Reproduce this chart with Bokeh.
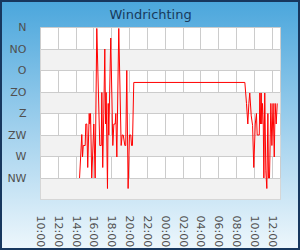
import pandas as pd
from bokeh.plotting import figure
from bokeh.models import (Range1d, FixedTicker, DatetimeTickFormatter,
                          ColumnDataSource)
from bokeh.embed import file_html
from bokeh.resources import INLINE

# ---- data -------------------------------------------------------------
time = [
    "2024-05-01 14:23", "2024-05-01 14:38", "2024-05-01 14:43", "2024-05-01 14:48",
    "2024-05-01 15:01", "2024-05-01 15:05", "2024-05-01 15:12", "2024-05-01 15:18",
    "2024-05-01 15:28", "2024-05-01 15:32", "2024-05-01 15:37", "2024-05-01 15:45",
    "2024-05-01 15:59", "2024-05-01 16:08", "2024-05-01 16:19", "2024-05-01 16:39",
    "2024-05-01 16:49", "2024-05-01 16:53", "2024-05-01 16:59", "2024-05-01 17:06",
    "2024-05-01 17:13", "2024-05-01 17:18", "2024-05-01 17:22", "2024-05-01 17:26",
    "2024-05-01 17:31", "2024-05-01 17:36", "2024-05-01 17:40", "2024-05-01 17:53",
    "2024-05-01 18:07", "2024-05-01 18:14", "2024-05-01 18:23", "2024-05-01 18:27",
    "2024-05-01 18:34", "2024-05-01 18:47", "2024-05-01 19:03", "2024-05-01 19:10",
    "2024-05-01 19:17", "2024-05-01 19:28", "2024-05-01 19:34", "2024-05-01 19:41",
    "2024-05-01 19:50", "2024-05-01 19:59", "2024-05-01 20:08", "2024-05-01 20:13",
    "2024-05-01 20:19", "2024-05-01 20:28",
    "2024-05-02 08:56", "2024-05-02 09:07", "2024-05-02 09:16", "2024-05-02 09:23",
    "2024-05-02 09:29", "2024-05-02 09:39", "2024-05-02 09:48", "2024-05-02 09:56",
    "2024-05-02 10:06", "2024-05-02 10:14", "2024-05-02 10:19", "2024-05-02 10:33",
    "2024-05-02 10:37", "2024-05-02 10:41", "2024-05-02 10:46", "2024-05-02 10:50",
    "2024-05-02 10:55", "2024-05-02 11:00", "2024-05-02 11:04", "2024-05-02 11:10",
    "2024-05-02 11:17", "2024-05-02 11:24", "2024-05-02 11:31", "2024-05-02 11:35",
    "2024-05-02 11:42", "2024-05-02 11:51", "2024-05-02 11:58", "2024-05-02 12:06",
    "2024-05-02 12:14", "2024-05-02 12:20", "2024-05-02 12:27", "2024-05-02 12:34",
]
direction_deg = [
    315, 224, 271, 247,
    247, 202, 202, 293,
    180, 202, 180, 315,
    202, 315, 2, 247,
    247, 136, 293, 180,
    45, 202, 136, 225,
    337, 159, 225, 22,
    247, 202, 202, 180,
    271, 2, 247, 225,
    225, 247, 247, 90,
    337, 225, 225, 247,
    247, 115,
    115, 159, 202, 159,
    137, 185, 205, 293,
    202, 180, 225, 225,
    137, 202, 137, 202,
    159, 202, 315, 137,
    300, 337, 180, 315,
    315, 159, 247, 159,
    271, 159, 202, 159,
]
dir_degrees = [0, 45, 90, 135, 180, 225, 270, 315]
dir_labels = ["N", "NO", "O", "ZO", "Z", "ZW", "W", "NW"]
tick_times = [
    "2024-05-01 10:00", "2024-05-01 12:00", "2024-05-01 14:00", "2024-05-01 16:00",
    "2024-05-01 18:00", "2024-05-01 20:00", "2024-05-01 22:00", "2024-05-02 00:00",
    "2024-05-02 02:00", "2024-05-02 04:00", "2024-05-02 06:00", "2024-05-02 08:00",
    "2024-05-02 10:00", "2024-05-02 12:00",
]
x_start = "2024-05-01 10:00"
x_end = "2024-05-02 12:56"
title_text = "Windrichting"

# ---- figure -----------------------------------------------------------
t = pd.to_datetime(time)
src = ColumnDataSource(dict(t=t, d=direction_deg))
tick_ms = [int(v) // 10**6 for v in pd.to_datetime(tick_times).astype("int64")]

p = figure(width=300, height=250, x_axis_type="datetime",
           x_range=Range1d(pd.Timestamp(x_start), pd.Timestamp(x_end)),
           y_range=Range1d(360, 0), title=title_text,
           output_backend="svg", toolbar_location=None,
           min_border_left=40, min_border_right=20,
           min_border_top=25, min_border_bottom=50)
p.border_fill_alpha = 0
p.background_fill_color = "white"
p.outline_line_color = "#cccccc"
p.outline_line_width = 1
p.styles = {
    "background": "linear-gradient(to bottom, #4aa6dc 0%, #a6d3ee 55%, #eef7fc 100%)",
    "box-shadow": "inset 0 0 0 2px #17375e",
}

p.title.align = "left"
p.title.offset = 69
p.title.vertical_align = "middle"
p.title.text_font = "DejaVu Sans"
p.title.text_font_size = "13px"
p.title.text_font_style = "normal"
p.title.text_color = "#183a5c"

p.line("t", "d", source=src, line_color="red", line_width=1)

# y axis
p.yaxis.ticker = FixedTicker(ticks=dir_degrees)
p.yaxis.major_label_overrides = {d: l for d, l in zip(dir_degrees, dir_labels)}
p.ygrid.ticker = FixedTicker(ticks=dir_degrees)
p.ygrid.grid_line_color = "#cccccc"
p.ygrid.band_fill_color = "#f2f2f2"
p.ygrid.band_fill_alpha = 1

# x axis
p.xaxis.ticker = FixedTicker(ticks=tick_ms)
p.xgrid.ticker = FixedTicker(ticks=tick_ms)
p.xgrid.grid_line_color = "#cccccc"
fmt = "%H:%M"
p.xaxis.formatter = DatetimeTickFormatter(
    microseconds=fmt, milliseconds=fmt, seconds=fmt, minsec=fmt,
    minutes=fmt, hourmin=fmt, hours=fmt, days=fmt, months=fmt, years=fmt)
p.xaxis.major_label_orientation = "vertical"

for ax in (p.xaxis[0], p.yaxis[0]):
    ax.axis_line_color = None
    ax.major_tick_line_color = None
    ax.minor_tick_line_color = None
    ax.major_label_text_font = "DejaVu Sans"
    ax.major_label_text_font_size = "11px"
    ax.major_label_text_color = "#505050"
    props = ax.properties()
    for name in props:
        if name.startswith("major_label") and "outline" in name and name.endswith("color"):
            setattr(ax, name, None)
p.yaxis.major_label_standoff = 8
p.xaxis.major_label_standoff = 10

open("out.html", "w").write(file_html(p, INLINE))
